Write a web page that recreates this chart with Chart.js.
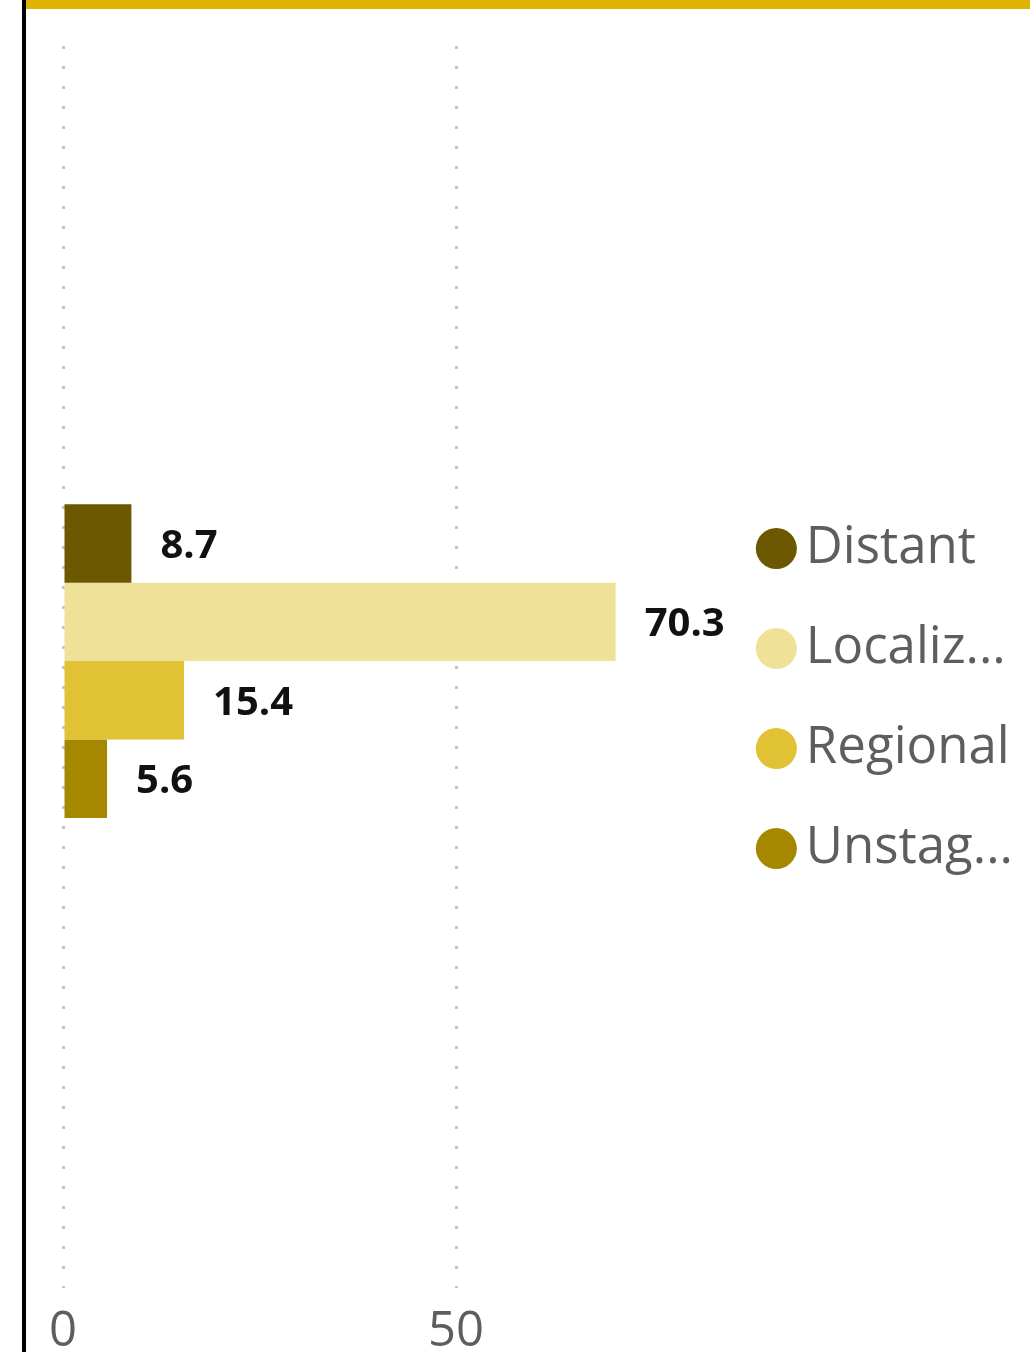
<!DOCTYPE html>
<html>
<head>
<meta charset="utf-8">
<script src="https://cdn.jsdelivr.net/npm/chart.js@4.4.1/dist/chart.umd.min.js"></script>
<style>
    body { margin: 0; background: #fff; }
    #wrap { position: relative; width: 1030px; height: 1352px; overflow: hidden; }
    #chart { position: absolute; left: 0; top: 0; }
    .leftLine { position: absolute; left: 22px; top: 0; width: 4px; height: 1352px; background: #000; }
    .topBar { position: absolute; left: 26px; top: 0; width: 1004px; height: 9px; background: #DDB400; }
</style>
</head>
<body>
<div id="wrap">
    <!-- canvas a bit taller than the page so the tick labels sit low like in the picture -->
    <canvas id="chart" width="1030" height="1375"></canvas>
    <div class="leftLine"></div>
    <div class="topBar"></div>
</div>
<script>
// data
const categories = [''];
const seriesNames = ['Distant', 'Localiz...', 'Regional', 'Unstag...'];
const seriesValues = [8.7, 70.3, 15.4, 5.6];
const seriesColors = ['#6B5800', '#F0E199', '#E0C234', '#A68800'];
const tickValues = [0, 50];

const datasets = seriesNames.map(function (name, i) {
    return {
        label: name,
        data: [seriesValues[i]],
        backgroundColor: seriesColors[i],
        borderWidth: 0,
        categoryPercentage: 0.25,
        barPercentage: 1
    }
})

// value labels next to the end of each bar
const valueLabels = {
    id: 'valueLabels',
    afterDatasetsDraw(chart) {
        const ctx = chart.ctx
        ctx.save()
        ctx.font = 'bold 40px "Open Sans"'
        ctx.fillStyle = '#111111'
        ctx.textAlign = 'left'
        ctx.textBaseline = 'middle'
        chart.data.datasets.forEach(function (ds, i) {
            const bar = chart.getDatasetMeta(i).data[0]
            ctx.fillText(ds.data[0].toFixed(1), bar.x + 29, bar.y + 3)
        })
        ctx.restore()
    }
}

new Chart(document.getElementById('chart'), {
    type: 'bar',
    data: { labels: categories, datasets: datasets },
    plugins: [valueLabels],
    options: {
        responsive: false,
        animation: false,
        devicePixelRatio: 1,
        indexAxis: 'y',
        layout: { padding: { left: 63, top: 34, right: 7, bottom: 0 } },
        plugins: {
            tooltip: { enabled: false },
            legend: {
                position: 'right',
                align: 'start',
                // empty title only pushes the legend items down
                title: { display: true, text: '', padding: 217, font: { size: 5 } },
                labels: {
                    usePointStyle: true,
                    pointStyle: 'circle',
                    boxWidth: 8,
                    boxHeight: 29,
                    padding: 49,
                    color: '#605E5C',
                    font: { family: '"Open Sans"', size: 51 }
                }
            }
        },
        scales: {
            x: {
                min: 0,
                max: 84,
                afterBuildTicks: function (scale) {
                    scale.ticks = tickValues.map(v => ({ value: v }))
                },
                grid: { color: '#C4C4C4', lineWidth: 3, drawTicks: false },
                border: { display: false, dash: [3, 17], dashOffset: 8 },
                ticks: {
                    color: '#605E5C',
                    padding: 14,
                    maxRotation: 0,
                    font: { family: '"Open Sans"', size: 49 }
                }
            },
            y: { display: false }
        }
    }
})
</script>
</body>
</html>
